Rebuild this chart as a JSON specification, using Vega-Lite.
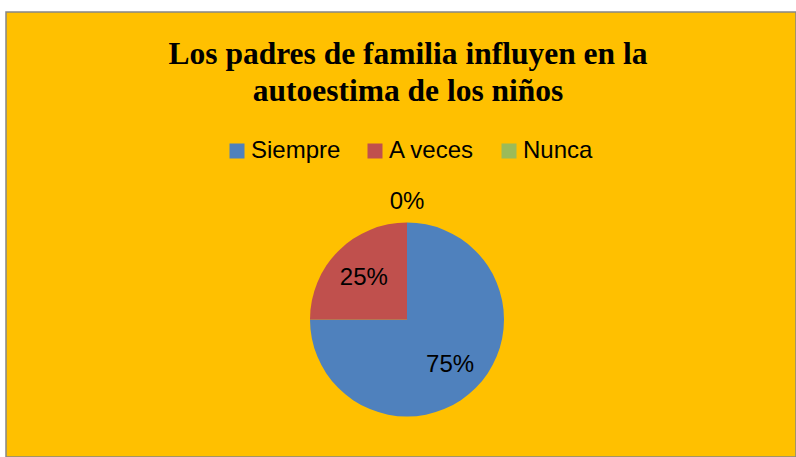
{
  "$schema": "https://vega.github.io/schema/vega-lite/v6.json",
  "autosize": {"type": "none"},
  "width": 790,
  "height": 445,
  "padding": {"left": 6, "top": 12, "right": 0, "bottom": 0},
  "background": "white",
  "view": {"fill": "#FFC000", "stroke": "#868686", "strokeWidth": 1.5},
  "title": {
    "text": ["Los padres de familia influyen en la", "autoestima de los niños"],
    "font": "Liberation Serif",
    "fontSize": 31.5,
    "fontWeight": "bold",
    "color": "black",
    "lineHeight": 37,
    "anchor": "middle",
    "orient": "top",
    "offset": -95,
    "dx": 7
  },
  "data": {
    "values": [
      {"respuesta": "Siempre", "valor": 0.75, "orden": 1},
      {"respuesta": "A veces", "valor": 0.25, "orden": 2},
      {"respuesta": "Nunca", "valor": 0.0, "orden": 3}
    ]
  },
  "encoding": {
    "theta": {"field": "valor", "type": "quantitative", "stack": true},
    "order": {"field": "orden", "type": "quantitative"}
  },
  "layer": [
    {
      "mark": {"type": "arc", "outerRadius": 97, "xOffset": 6, "yOffset": 85, "stroke": null},
      "encoding": {
        "color": {
          "field": "respuesta",
          "type": "nominal",
          "sort": ["Siempre", "A veces", "Nunca"],
          "scale": {"domain": ["Siempre", "A veces", "Nunca"], "range": ["#4F81BD", "#C0504D", "#9BBB59"]},
          "legend": {
            "title": null,
            "orient": "none",
            "direction": "horizontal",
            "legendX": 219,
            "legendY": 127,
            "symbolType": "square",
            "symbolSize": 225,
            "symbolStrokeWidth": 0,
            "labelFont": "Liberation Sans",
            "labelFontSize": 24,
            "labelColor": "black",
            "labelOffset": 2,
            "columnPadding": 22,
            "padding": 0,
            "labelLimit": 200
          }
        }
      }
    },
    {
      "mark": {"type": "text", "radius": 61, "xOffset": 6, "yOffset": 87, "font": "Liberation Sans", "fontSize": 24, "color": "black"},
      "encoding": {
        "text": {"condition": {"test": "datum.valor > 0", "field": "valor", "type": "quantitative", "format": ".0%"}, "value": ""}
      }
    },
    {
      "mark": {"type": "text", "radius": 118, "xOffset": 6, "yOffset": 85, "font": "Liberation Sans", "fontSize": 24, "color": "black"},
      "encoding": {
        "text": {"condition": {"test": "datum.valor == 0", "field": "valor", "type": "quantitative", "format": ".0%"}, "value": ""}
      }
    }
  ]
}
